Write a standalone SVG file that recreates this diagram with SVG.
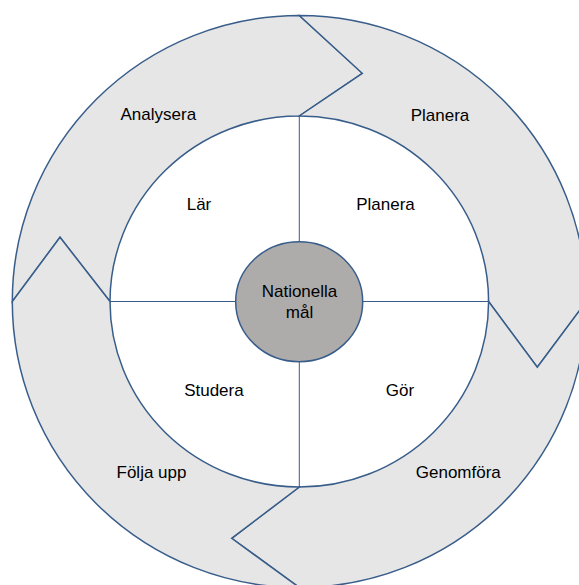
<svg xmlns="http://www.w3.org/2000/svg" width="579" height="585" viewBox="0 0 579 585">
<style>
.seg{fill:#e6e6e6;stroke:#385D8A;stroke-width:1.5;stroke-linejoin:miter}
.div{stroke:#385D8A;stroke-width:1;fill:none}
.lbl{font-family:"Liberation Sans",Arial,sans-serif;font-size:17px;fill:#000;text-anchor:middle}
</style>
<rect x="0" y="0" width="579" height="585" fill="#fff"/>
<g id="seg-analysera">
<path class="seg" d="M12.3,301.5 A287,286 0 0 1 299.3,15.5 L362.3,73.3 L299.3,116 A189.3,185.5 0 0 0 110,301.5 L60,237.3 Z"/>
<text class="lbl" x="158.3" y="120">Analysera</text>
</g>
<g id="seg-planera">
<path class="seg" d="M299.3,15.5 A287,286 0 0 1 586.3,301.5 L537.3,367.3 L488.6,301.5 A189.3,185.5 0 0 0 299.3,116 L362.3,73.3 Z"/>
<text class="lbl" x="440" y="120.5">Planera</text>
</g>
<g id="seg-genomfora">
<path class="seg" d="M586.3,301.5 A287,286 0 0 1 299.3,587.5 L231.7,538.3 L299.3,487 A189.3,185.5 0 0 0 488.6,301.5 L537.3,367.3 Z"/>
<text class="lbl" x="458.3" y="478">Genomföra</text>
</g>
<g id="seg-folja-upp">
<path class="seg" d="M299.3,587.5 A287,286 0 0 1 12.3,301.5 L60,237.3 L110,301.5 A189.3,185.5 0 0 0 299.3,487 L231.7,538.3 Z"/>
<text class="lbl" x="151.5" y="478">Följa upp</text>
</g>
<g id="connectors">
<line class="div" x1="299.3" y1="116" x2="299.3" y2="487"/>
<line class="div" x1="110" y1="301.5" x2="488.6" y2="301.5"/>
</g>
<g id="cell-lar"><text class="lbl" x="199" y="209.5">Lär</text></g>
<g id="cell-planera"><text class="lbl" x="385.5" y="209.5">Planera</text></g>
<g id="cell-studera"><text class="lbl" x="213.9" y="396">Studera</text></g>
<g id="cell-gor"><text class="lbl" x="400" y="396">Gör</text></g>
<g id="center">
<ellipse cx="299.2" cy="301.7" rx="63.5" ry="60" fill="#aeabab" stroke="#385D8A" stroke-width="1.5"/>
<text class="lbl" x="299.5" y="297">Nationella</text>
<text class="lbl" x="299.5" y="318">mål</text>
</g>
</svg>
